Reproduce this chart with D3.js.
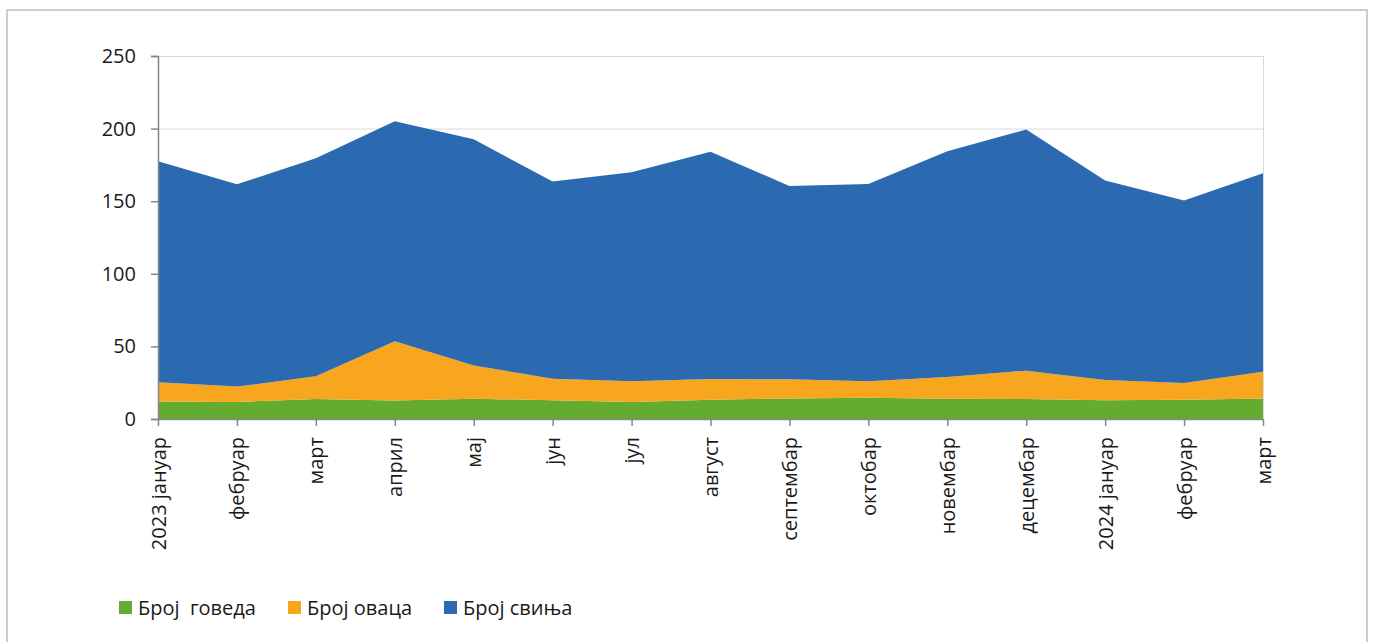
<!DOCTYPE html>
<html>
<head>
<meta charset="utf-8">
<script src="https://cdn.jsdelivr.net/npm/d3@7"></script>
<style>
  html, body { margin: 0; padding: 0; background: #fff; }
  svg { display: block; }
  text { font-family: "Open Sans", "Noto Sans", sans-serif; fill: #1a1a1a; }
</style>
</head>
<body>
<svg id="chart" width="1373" height="642"></svg>
<script>
const categories = ["2023 јануар","фебруар","март","април","мај","јун","јул","август","септембар","октобар","новембар","децембар","2024 јануар","фебруар","март"];
const seriesNames = ["Број  говеда","Број оваца","Број свиња"];
const cattle = [12, 11.7, 13.8, 12.7, 14, 12.9, 11.7, 13.3, 14.2, 14.7, 14, 13.8, 12.9, 13.3, 14.2];
const sheep  = [13.3, 10.6, 15.6, 40.8, 22.8, 14.9, 14.3, 14.2, 13.1, 11.3, 14.9, 19.5, 14, 11.5, 18.4];
const pigs   = [152.2, 139.3, 150.1, 151.5, 155.8, 135.7, 144, 156.5, 133.2, 135.8, 155.5, 166, 137.3, 125.6, 136.6];
const yTicks = [0, 50, 100, 150, 200, 250];
const colors = ["#63AC2F", "#F8A61D", "#2B6AB1"];

(function () {
const svg = d3.select("#chart");
const pLeft = 158, pRight = 1263, pTop = 56, pBottom = 419;

// outer frame
svg.append("rect").attr("x", 7).attr("y", 10).attr("width", 1360).attr("height", 640)
  .attr("fill", "none").attr("stroke", "#BFBFBF").attr("stroke-width", 1.5);

const idx = d3.range(categories.length);
const x = d3.scaleLinear().domain([0, categories.length - 1]).range([pLeft, pRight]);
const y = d3.scaleLinear().domain([0, 250]).range([pBottom, pTop]);

const rows = idx.map(i => ({ i, c: cattle[i], s: sheep[i], p: pigs[i] }));
const layers = d3.stack().keys(["c", "s", "p"])(rows);

// gridlines
svg.append("g").selectAll("line").data(yTicks.filter(t => t > 0)).join("line")
  .attr("x1", pLeft).attr("x2", pRight)
  .attr("y1", d => y(d) + 0.5).attr("y2", d => y(d) + 0.5)
  .attr("stroke", "#D9D9D9").attr("stroke-width", 1);

// areas
const area = d3.area()
  .x(d => x(d.data.i))
  .y0(d => y(d[0]))
  .y1(d => y(d[1]));
svg.append("g").selectAll("path").data(layers).join("path")
  .attr("d", area)
  .attr("fill", (d, k) => colors[k]);

// right plot border
svg.append("line").attr("x1", pRight + 0.5).attr("x2", pRight + 0.5).attr("y1", pTop).attr("y2", pBottom)
  .attr("stroke", "#D9D9D9");

// y axis
const yAxis = d3.axisLeft(y).tickValues(yTicks).tickSize(7).tickPadding(15);
const gy = svg.append("g").attr("transform", `translate(${pLeft},0)`).call(yAxis);
gy.select(".domain").attr("stroke", "#868686").attr("stroke-width", 1.5);
gy.selectAll(".tick line").attr("stroke", "#868686").attr("stroke-width", 1.5);
gy.selectAll(".tick text").style("font-size", "20px").style("font-family", "Open Sans").attr("fill", "#1a1a1a");

// x axis
const xAxis = d3.axisBottom(x).tickValues(idx).tickFormat(i => categories[i]).tickSize(7).tickSizeOuter(0);
const gx = svg.append("g").attr("transform", `translate(0,${pBottom})`).call(xAxis);
gx.select(".domain").attr("stroke", "#868686").attr("stroke-width", 1.5);
gx.selectAll(".tick line").attr("stroke", "#868686").attr("stroke-width", 1.5);
gx.selectAll(".tick text")
  .style("font-size", "20px").style("font-family", "Open Sans").attr("fill", "#1a1a1a")
  .attr("text-anchor", "end")
  .attr("transform", "translate(0,18) rotate(-90)")
  .attr("x", 0).attr("y", 0).attr("dy", "0.35em");

// legend
const legendX = [119, 288, 444];
const lg = svg.append("g");
seriesNames.forEach((name, k) => {
  lg.append("rect").attr("x", legendX[k]).attr("y", 601).attr("width", 13).attr("height", 13).attr("fill", colors[k]);
  lg.append("text").attr("x", legendX[k] + 19).attr("y", 615)
    .style("font-size", "20px").style("white-space", "pre").attr("xml:space", "preserve")
    .text(name);
});
})();
</script>
</body>
</html>
